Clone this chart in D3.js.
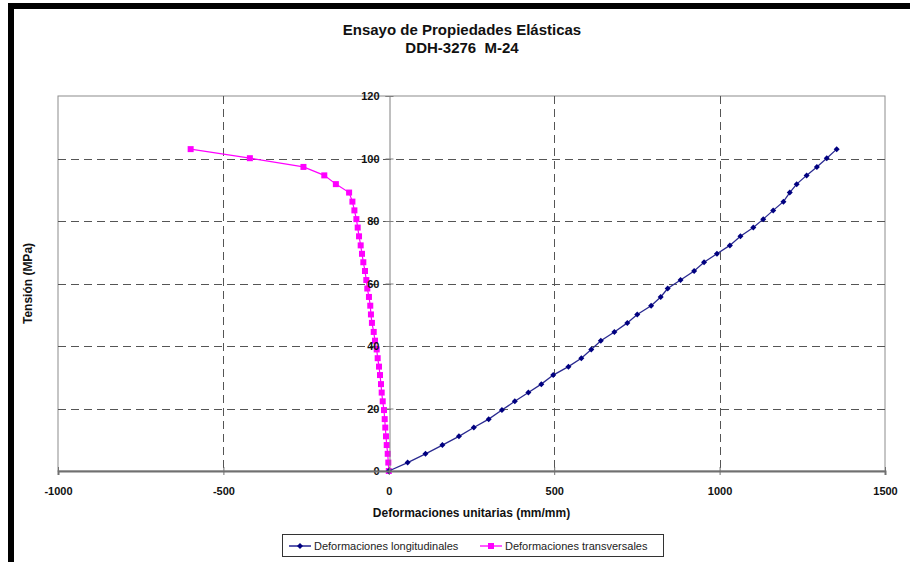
<!DOCTYPE html>
<html>
<head>
<meta charset="utf-8">
<script src="https://cdn.jsdelivr.net/npm/d3@7/dist/d3.min.js"></script>
<style>
  html, body { margin: 0; padding: 0; background: #fff; }
  svg { display: block; font-family: "Liberation Sans", Arial, sans-serif; }
  text { white-space: pre; }
</style>
</head>
<body>
<svg id="chart" width="910" height="562"></svg>
<script>
// Stress levels (MPa) shared by both strain series
const tension = [0, 2.7, 5.5, 8.3, 11.1, 13.9, 16.6, 19.5, 22.3, 25.1, 27.8, 30.7, 33.4, 36.1,
  38.9, 41.7, 44.5, 47.4, 50.1, 52.9, 55.7, 58.4, 61.1, 64.0, 66.8, 69.5, 72.2, 75.1, 77.9,
  80.6, 83.4, 86.2, 89.1, 91.8, 94.6, 97.3, 100.1, 103.0];

// Longitudinal strain (microstrain)
const longitudinal = [0, 57, 111, 162, 212, 257, 302, 342, 381, 422, 461, 497, 543, 582,
  612, 641, 682, 721, 751, 793, 822, 843, 882, 923, 953, 992, 1031, 1063, 1102,
  1132, 1162, 1193, 1212, 1233, 1263, 1294, 1324, 1354];

// Transverse strain (microstrain)
const transversal = [0, -1.5, -3.3, -6.3, -8.5, -10.6, -12.4, -14.5, -18.4, -21.5, -23.6, -26.6, -29.6, -33.6,
  -36.6, -41.7, -45.6, -51, -54, -56, -60, -65, -68, -72, -77, -81, -85, -90, -94,
  -98, -104, -110, -120, -160, -195, -258, -420, -599];

const xTicks = [-1000, -500, 0, 500, 1000, 1500];
const yTicks = [0, 20, 40, 60, 80, 100, 120];
const xGrid = [-500, 500, 1000];
const yGrid = [20, 40, 60, 80, 100];

const titleLines = ["Ensayo de Propiedades Elásticas", "DDH-3276  M-24"];
const xTitle = "Deformaciones unitarias (mm/mm)";
const yTitle = "Tensión (MPa)";
const seriesNames = ["Deformaciones longitudinales", "Deformaciones transversales"];

const svg = d3.select("#chart");

// outer black frame
svg.append("path")
  .attr("d", "M11,562 V6 H912")
  .attr("fill", "none")
  .attr("stroke", "#000")
  .attr("stroke-width", 6);

const plot = { left: 58, right: 885, top: 96, bottom: 471 };
const x = d3.scaleLinear().domain([-1000, 1500]).range([plot.left, plot.right]);
const y = d3.scaleLinear().domain([0, 120]).range([plot.bottom, plot.top]);
const plain = d => String(d);

// title
svg.append("g").selectAll("text").data(titleLines).join("text")
  .attr("x", 462)
  .attr("y", (d, i) => 35 + i * 18)
  .attr("text-anchor", "middle")
  .attr("font-size", 15)
  .attr("font-weight", "bold")
  .attr("fill", "#111")
  .text(d => d);

// plot frame
svg.append("rect")
  .attr("x", plot.left).attr("y", plot.top)
  .attr("width", plot.right - plot.left).attr("height", plot.bottom - plot.top)
  .attr("fill", "none").attr("stroke", "#8c8c8c").attr("stroke-width", 1);

// dashed gridlines
const grid = svg.append("g").attr("stroke", "#555").attr("stroke-width", 1).attr("stroke-dasharray", "8,5");
grid.selectAll("line.h").data(yGrid).join("line")
  .attr("x1", plot.left).attr("x2", plot.right)
  .attr("y1", d => Math.round(y(d)) + 0.5).attr("y2", d => Math.round(y(d)) + 0.5);
grid.selectAll("line.v").data(xGrid).join("line")
  .attr("y1", plot.top).attr("y2", plot.bottom)
  .attr("x1", d => Math.round(x(d)) + 0.5).attr("x2", d => Math.round(x(d)) + 0.5);

const line = d3.line().x(d => x(d[0])).y(d => y(d[1]));
const longData = longitudinal.map((v, i) => [v, tension[i]]);
const transData = transversal.map((v, i) => [v, tension[i]]);

// transverse series (magenta, squares)
svg.append("path").datum(transData)
  .attr("d", line).attr("fill", "none").attr("stroke", "#ff00ff").attr("stroke-width", 1.2);
svg.append("g").selectAll("rect").data(transData).join("rect")
  .attr("x", d => x(d[0]) - 3).attr("y", d => y(d[1]) - 3)
  .attr("width", 6).attr("height", 6).attr("fill", "#ff00ff");

// longitudinal series (navy, diamonds)
svg.append("path").datum(longData)
  .attr("d", line).attr("fill", "none").attr("stroke", "#2a2a90").attr("stroke-width", 1.3);
const diamond = "M0,-3L3,0L0,3L-3,0Z";
svg.append("g").selectAll("path").data(longData).join("path")
  .attr("transform", d => `translate(${x(d[0])},${y(d[1])})`)
  .attr("d", diamond).attr("fill", "#000080");

// y axis crossing at strain = 0 (labels sit above the series)
const yAxis = svg.append("g")
  .attr("transform", `translate(${Math.round(x(0)) + 0.5},0)`)
  .call(d3.axisLeft(y).tickValues(yTicks).tickFormat(plain).tickSize(4).tickPadding(6));
yAxis.select(".domain").attr("stroke", "#808080");
yAxis.selectAll(".tick line").attr("stroke", "#808080").attr("x1", 4).attr("x2", -4);
yAxis.selectAll(".tick text")
  .attr("font-size", 11).attr("font-weight", "bold").attr("fill", "#111")
  .attr("font-family", "Liberation Sans, Arial, sans-serif");

// x axis at stress = 0
const xAxis = svg.append("g")
  .attr("transform", `translate(0,${plot.bottom})`)
  .call(d3.axisBottom(x).tickValues(xTicks).tickFormat(plain).tickSize(4).tickPadding(12));
xAxis.select(".domain").attr("stroke", "#707070").attr("stroke-width", 2);
xAxis.selectAll(".tick line").attr("stroke", "#707070").attr("y1", -4).attr("y2", 4);
xAxis.selectAll(".tick text")
  .attr("font-size", 11).attr("font-weight", "bold").attr("fill", "#111")
  .attr("font-family", "Liberation Sans, Arial, sans-serif");

// axis titles
svg.append("text")
  .attr("x", (plot.left + plot.right) / 2).attr("y", 517)
  .attr("text-anchor", "middle").attr("font-size", 12).attr("font-weight", "bold").attr("fill", "#111")
  .text(xTitle);
svg.append("text")
  .attr("transform", `translate(32,${(plot.top + plot.bottom) / 2}) rotate(-90)`)
  .attr("text-anchor", "middle").attr("font-size", 12).attr("font-weight", "bold").attr("fill", "#111")
  .text(yTitle);

// legend
const legend = svg.append("g");
legend.append("rect")
  .attr("x", 282.5).attr("y", 534.5).attr("width", 381).attr("height", 22)
  .attr("fill", "#fff").attr("stroke", "#333").attr("stroke-width", 1);
const legItems = [
  { name: seriesNames[0], color: "#000080", x: 289, shape: "diamond" },
  { name: seriesNames[1], color: "#ff00ff", x: 480, shape: "square" }
];
legItems.forEach(it => {
  const g = legend.append("g").attr("transform", `translate(${it.x},546)`);
  g.append("line").attr("x1", 0).attr("x2", 22).attr("y1", 0).attr("y2", 0)
    .attr("stroke", it.color).attr("stroke-width", 1.3);
  if (it.shape === "diamond") {
    g.append("path").attr("transform", "translate(11,0)").attr("d", diamond).attr("fill", it.color);
  } else {
    g.append("rect").attr("x", 8).attr("y", -3).attr("width", 6).attr("height", 6).attr("fill", it.color);
  }
  g.append("text").attr("x", 25).attr("y", 4).attr("font-size", 11).attr("fill", "#222").text(it.name);
});
</script>
</body>
</html>
